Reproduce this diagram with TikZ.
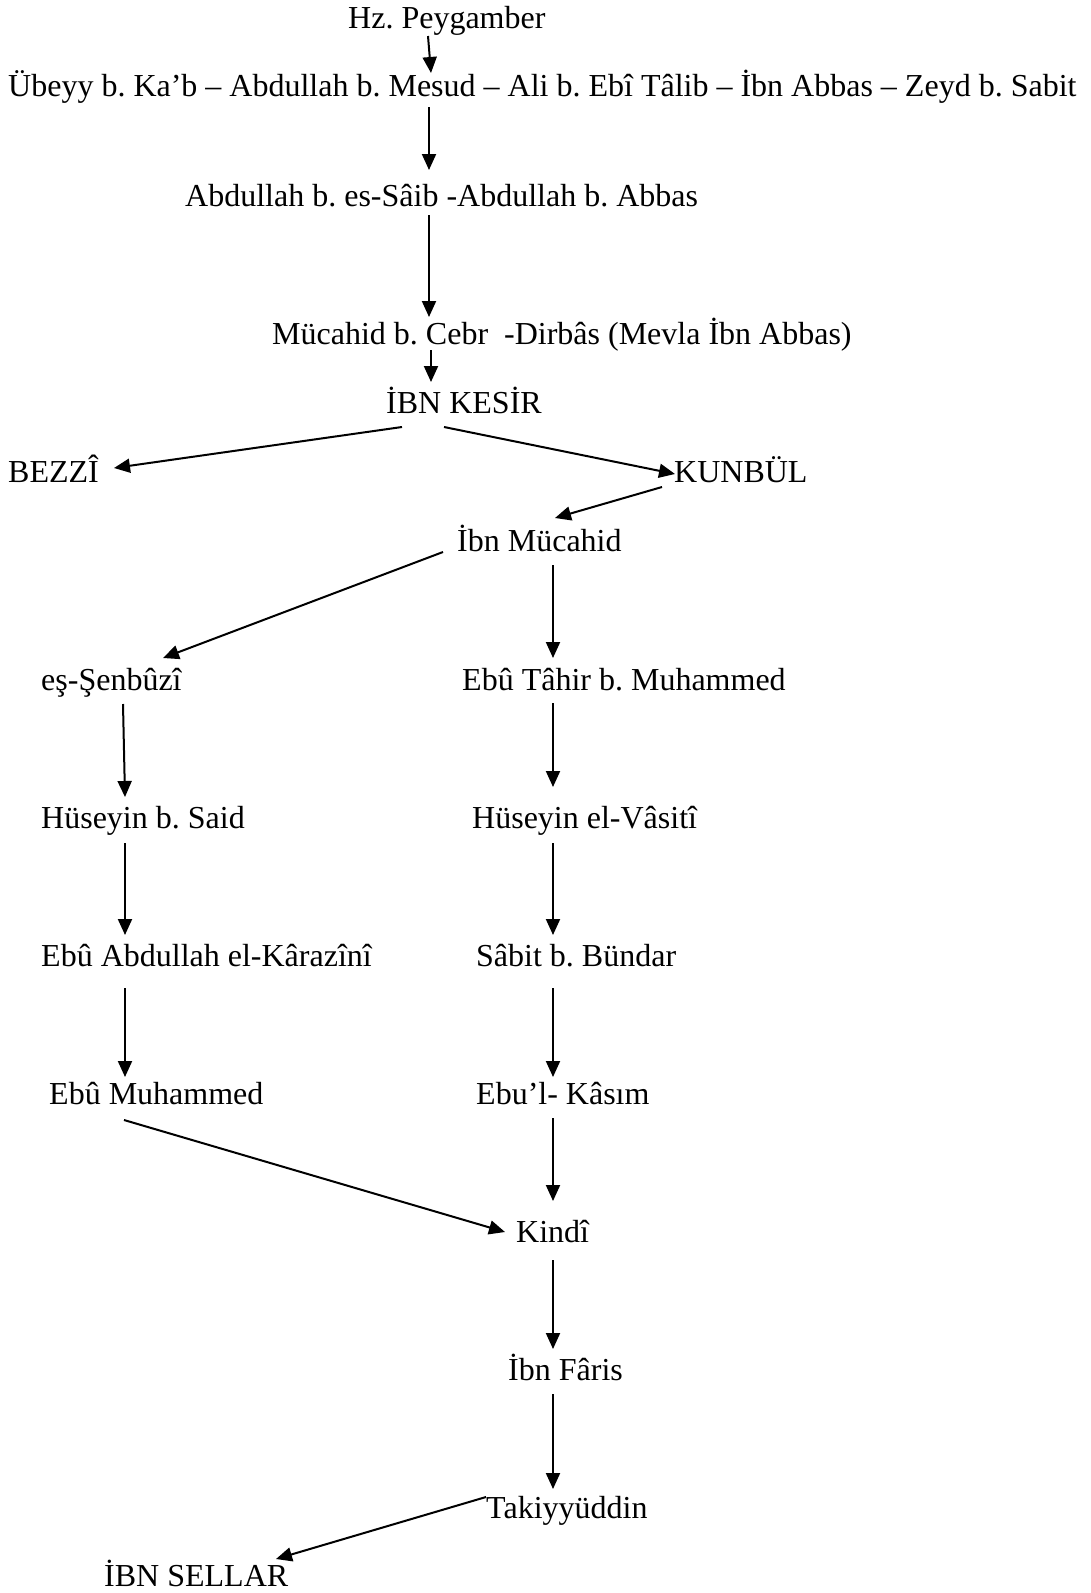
\documentclass[tikz,border=0pt]{standalone}
\usepackage{fontspec}
\setmainfont{Liberation Serif}
\usetikzlibrary{arrows.meta,calc}
\frenchspacing
\tikzset{
  lbl/.style={anchor=base west,inner sep=0pt,font=\fontsize{32}{36}\selectfont},
  arr/.style={line width=2pt,-{Triangle[length=16pt,width=14pt]}}
}
\begin{document}
\begin{tikzpicture}[x=1pt,y=-1pt]
\useasboundingbox (0,0) rectangle (1090,1593);
\node[lbl] (hz) at (348,28) {Hz. Peygamber};
\node[lbl] (row) at (8,96) {Übeyy b. Ka’b – Abdullah b. Mesud – Ali b. Ebî Tâlib – İbn Abbas – Zeyd b. Sabit};
\node[lbl] (saib) at (185,206) {Abdullah b. es-Sâib -Abdullah b. Abbas};
\node[lbl] (muc) at (272,344) {Mücahid b. Cebr\ \ -Dirbâs (Mevla İbn Abbas)};
\node[lbl] (kesir) at (386,413) {İBN KESİR};
\node[lbl] (bezzi) at (8,482) {BEZZÎ};
\node[lbl] (kunbul) at (674,482) {KUNBÜL};
\node[lbl] (ibnm) at (457,551) {İbn Mücahid};
\node[lbl] (senb) at (41,690) {eş-Şenbûzî};
\node[lbl] (tahir) at (462,690) {Ebû Tâhir b. Muhammed};
\node[lbl] (husb) at (41,828) {Hüseyin b. Said};
\node[lbl] (vasiti) at (472,828) {Hüseyin el-Vâsitî};
\node[lbl] (kara) at (41,966) {Ebû Abdullah el-Kârazînî};
\node[lbl] (sabit) at (476,966) {Sâbit b. Bündar};
\node[lbl] (ebum) at (49,1104) {Ebû Muhammed};
\node[lbl] (kasim) at (476,1104) {Ebu’l- Kâsım};
\node[lbl] (kindi) at (516,1242) {Kindî};
\node[lbl] (faris) at (508,1380) {İbn Fâris};
\node[lbl] (taki) at (486,1518) {Takiyyüddin};
\node[lbl] (sellar) at (104,1586) {İBN SELLAR};

\draw[arr] ($(hz.base west)+(80,8)$) -- ($(row.base west)+(423,-23)$);
\draw[arr] ($(row.base west)+(421,11)$) -- ($(saib.base west)+(244,-36)$);
\draw[arr] ($(saib.base west)+(244,9)$) -- ($(muc.base west)+(157,-27)$);
\draw[arr] ($(muc.base west)+(159,6)$) -- ($(kesir.base west)+(45,-31)$);
\draw[arr] ($(kesir.base west)+(16,14)$) -- ($(bezzi.base west)+(106,-14)$);
\draw[arr] ($(kesir.base west)+(58,14)$) -- ($(kunbul.base west)+(1,-8)$);
\draw[arr] ($(kunbul.base west)+(-12,5)$) -- ($(ibnm.base west)+(98,-33)$);
\draw[arr] ($(ibnm.base west)+(-14,1)$) -- ($(senb.base west)+(122,-32)$);
\draw[arr] ($(ibnm.base west)+(96,14)$) -- ($(tahir.base west)+(91,-32)$);
\draw[arr] ($(senb.base west)+(82,14)$) -- ($(husb.base west)+(84,-31)$);
\draw[arr] ($(husb.base west)+(84,15)$) -- ($(kara.base west)+(84,-31)$);
\draw[arr] ($(kara.base west)+(84,22)$) -- ($(ebum.base west)+(76,-27)$);
\draw[arr] ($(tahir.base west)+(91,13)$) -- ($(vasiti.base west)+(81,-41)$);
\draw[arr] ($(vasiti.base west)+(81,15)$) -- ($(sabit.base west)+(77,-31)$);
\draw[arr] ($(sabit.base west)+(77,22)$) -- ($(kasim.base west)+(77,-27)$);
\draw[arr] ($(ebum.base west)+(75,16)$) -- ($(kindi.base west)+(-11,-10)$);
\draw[arr] ($(kasim.base west)+(77,14)$) -- ($(kindi.base west)+(37,-41)$);
\draw[arr] ($(kindi.base west)+(37,18)$) -- ($(faris.base west)+(45,-31)$);
\draw[arr] ($(faris.base west)+(45,14)$) -- ($(taki.base west)+(67,-29)$);
\draw[arr] ($(taki.base west)+(0,-21)$) -- ($(sellar.base west)+(172,-27)$);
\end{tikzpicture}
\end{document}
